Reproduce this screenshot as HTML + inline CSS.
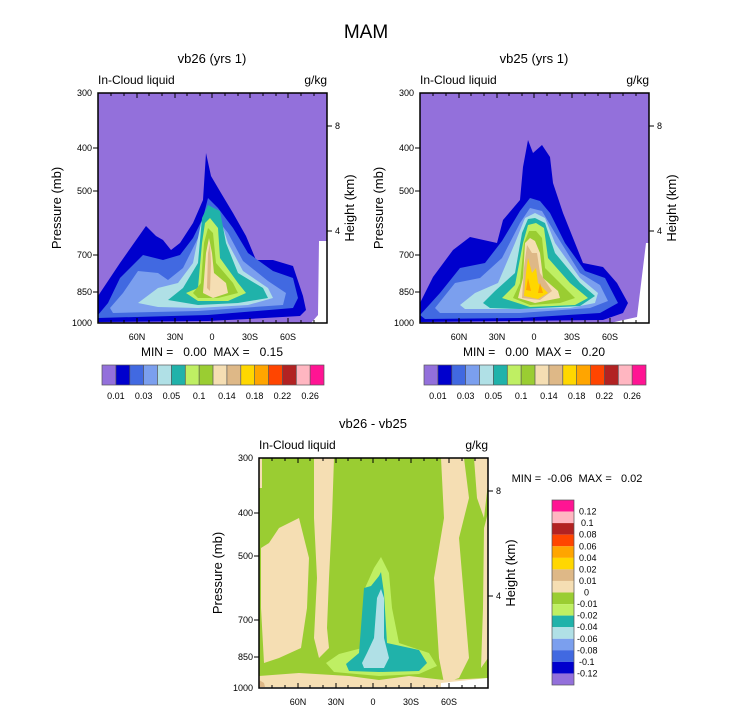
<!DOCTYPE html>
<html><head><meta charset="utf-8"><style>
body{margin:0;background:#fff;width:733px;height:712px;overflow:hidden}
svg text{font-family:"Liberation Sans",sans-serif;fill:#000;white-space:pre}
</style></head><body>
<svg width="733" height="712" viewBox="0 0 733 712" xmlns="http://www.w3.org/2000/svg" xml:space="preserve">
<defs>
<g id="ticksPanel">
  <rect x="0" y="0" width="229" height="230" fill="none" stroke="#000" stroke-width="1.5"/>
  <g stroke="#000" stroke-width="1">
    <path d="M39,230v-5M77,230v-5M114,230v-5M152,230v-5M190,230v-5M39,0v5M77,0v5M114,0v5M152,0v5M190,0v5"/>
    <path d="M13,230v-3M26,230v-3M51,230v-3M64,230v-3M89,230v-3M102,230v-3M127,230v-3M140,230v-3M165,230v-3M178,230v-3M203,230v-3M216,230v-3M13,0v3M26,0v3M51,0v3M64,0v3M89,0v3M102,0v3M127,0v3M140,0v3M165,0v3M178,0v3M203,0v3M216,0v3"/>
    <path d="M0,55h-5M0,98h-5M0,162h-5M0,199h-5M229,33h5M229,138h5"/>
  </g>
  <g font-size="9" text-anchor="end">
    <text x="-6" y="3">300</text><text x="-6" y="58">400</text><text x="-6" y="101">500</text>
    <text x="-6" y="165">700</text><text x="-6" y="202">850</text><text x="-6" y="233">1000</text>
  </g>
  <g font-size="9"><text x="237" y="36">8</text><text x="237" y="141">4</text></g>
  <g font-size="9" text-anchor="middle">
    <text x="39" y="247">60N</text><text x="77" y="247">30N</text><text x="114" y="247">0</text>
    <text x="152" y="247">30S</text><text x="190" y="247">60S</text>
  </g>
  <text x="-37" y="115" font-size="13" text-anchor="middle" transform="rotate(-90 -37 115)">Pressure (mb)</text>
  <text x="256" y="115" font-size="13" text-anchor="middle" transform="rotate(-90 256 115)">Height (km)</text>
  <text x="0" y="-9" font-size="12">In-Cloud liquid</text>
  <text x="229" y="-9" font-size="12" text-anchor="end">g/kg</text>
</g>
</defs>

<text x="366" y="38" font-size="19" text-anchor="middle">MAM</text>

<g transform="translate(98,93)">
  <text x="114" y="-30" font-size="13" text-anchor="middle">vb26 (yrs 1)</text>
  <rect x="0" y="0" width="229" height="230" fill="#9370DB"/>
  <polygon points="221,148 229,148 229,230 213,230 220,222" fill="#fff"/>
  <polygon points="0,203 22,170 48,133 58,143 65,147 73,157 82,150 95,130 105,107 108,60 113,83 123,100 135,120 148,143 158,167 175,167 195,173 205,203 208,217 202,223 150,226 110,228 0,229" fill="#0000CD"/>
  <polygon points="0,222 10,210 22,185 45,162 65,167 82,162 95,145 105,125 110,105 120,115 135,135 150,160 175,178 195,185 200,205 195,215 110,222 0,225" fill="#4169E1"/>
  <polygon points="12,215 25,200 40,178 60,180 70,187 85,175 100,145 108,120 118,125 130,140 145,168 170,188 188,200 185,212 100,218 15,220" fill="#7B9FEE"/>
  <polygon points="40,210 60,195 80,190 95,170 103,130 110,115 122,125 130,150 145,178 170,195 175,205 150,212 100,215 60,214" fill="#B0E0E6"/>
  <polygon points="70,207 85,195 100,170 104,125 110,112 122,118 128,150 140,180 165,195 170,205 140,210 100,212" fill="#20B2AA"/>
  <polygon points="88,200 100,195 104,150 107,130 112,125 120,135 122,165 140,190 148,200 130,208 100,208" fill="#BFEF63"/>
  <polygon points="95,200 103,190 106,150 110,135 115,140 118,170 135,190 140,200 120,205 100,205" fill="#9ACD32"/>
  <polygon points="105,200 108,160 111,145 114,160 116,180 128,190 130,200 115,205" fill="#F5DEB3"/>
  <polygon points="109,195 110,160 112,150 113,170 112,198" fill="#DEB887"/>
  <use href="#ticksPanel"/>
  <text x="114" y="263" font-size="12" text-anchor="middle">MIN =   0.00  MAX =   0.15</text>
</g>

<g transform="translate(420,93)">
  <text x="114" y="-30" font-size="13" text-anchor="middle">vb25 (yrs 1)</text>
  <rect x="0" y="0" width="229" height="230" fill="#9370DB"/>
  <polygon points="226,150 229,150 229,230 190,230 217,224" fill="#fff"/>
  <polygon points="0,210 13,184 33,157 50,144 77,150 83,127 100,107 103,74 108,47 113,60 122,52 130,64 133,90 143,120 163,170 183,174 197,190 208,210 203,220 183,227 0,229" fill="#0000CD"/>
  <polygon points="0,222 20,200 40,175 65,170 82,148 100,118 110,105 120,108 130,120 145,150 165,178 185,185 198,210 180,220 100,225 5,226" fill="#4169E1"/>
  <polygon points="15,215 35,190 60,185 82,165 100,130 110,115 122,118 135,140 160,180 180,192 188,208 170,215 100,220 20,220" fill="#7B9FEE"/>
  <polygon points="40,212 55,200 78,190 95,150 105,125 115,120 125,125 135,150 160,185 178,200 175,210 150,215 90,216 45,216" fill="#B0E0E6"/>
  <polygon points="63,210 75,198 95,180 102,140 108,126 115,125 125,130 135,160 160,190 175,203 160,213 100,216 70,215" fill="#20B2AA"/>
  <polygon points="82,205 95,192 103,150 108,132 116,130 124,135 128,165 150,190 168,205 155,212 110,214" fill="#BFEF63"/>
  <polygon points="93,205 100,190 104,150 109,138 116,138 122,145 125,175 145,195 155,205 140,210 110,212" fill="#9ACD32"/>
  <polygon points="98,205 103,185 105,150 110,145 115,148 120,160 123,185 138,198 140,205 115,210" fill="#F5DEB3"/>
  <polygon points="102,205 104,175 107,152 112,160 117,160 120,180 132,198 120,207" fill="#DEB887"/>
  <polygon points="104,203 106,180 108,165 112,180 116,175 118,190 128,200 118,206" fill="#FFD700"/>
  <polygon points="106,197 108,185 111,198" fill="#FFA500"/>
  <polygon points="118,200 120,190 123,200" fill="#FFA500"/>
  <use href="#ticksPanel"/>
  <text x="114" y="263" font-size="12" text-anchor="middle">MIN =   0.00  MAX =   0.20</text>
</g>

<g id="hbar" transform="translate(102,365)">
  <rect x="0" y="0" width="13.9" height="20" fill="#9370DB"/>
  <rect x="13.9" y="0" width="13.9" height="20" fill="#0000CD"/>
  <rect x="27.8" y="0" width="13.9" height="20" fill="#4169E1"/>
  <rect x="41.6" y="0" width="13.9" height="20" fill="#7B9FEE"/>
  <rect x="55.5" y="0" width="13.9" height="20" fill="#B0E0E6"/>
  <rect x="69.4" y="0" width="13.9" height="20" fill="#20B2AA"/>
  <rect x="83.3" y="0" width="13.9" height="20" fill="#BFEF63"/>
  <rect x="97.1" y="0" width="13.9" height="20" fill="#9ACD32"/>
  <rect x="111" y="0" width="13.9" height="20" fill="#F5DEB3"/>
  <rect x="124.9" y="0" width="13.9" height="20" fill="#DEB887"/>
  <rect x="138.8" y="0" width="13.9" height="20" fill="#FFD700"/>
  <rect x="152.6" y="0" width="13.9" height="20" fill="#FFA500"/>
  <rect x="166.5" y="0" width="13.9" height="20" fill="#FF4500"/>
  <rect x="180.4" y="0" width="13.9" height="20" fill="#B22222"/>
  <rect x="194.3" y="0" width="13.9" height="20" fill="#FFB6C1"/>
  <rect x="208.1" y="0" width="13.9" height="20" fill="#FF1493"/>
  <g stroke="#555" stroke-width="0.7" fill="none"><rect x="0" y="0" width="222" height="20"/>
  <path d="M13.9,0v20M27.8,0v20M41.6,0v20M55.5,0v20M69.4,0v20M83.3,0v20M97.1,0v20M111,0v20M124.9,0v20M138.8,0v20M152.6,0v20M166.5,0v20M180.4,0v20M194.3,0v20M208.1,0v20"/></g>
  <g font-size="9" text-anchor="middle">
    <text x="13.9" y="34">0.01</text><text x="41.6" y="34">0.03</text><text x="69.4" y="34">0.05</text>
    <text x="97.1" y="34">0.1</text><text x="124.9" y="34">0.14</text><text x="152.6" y="34">0.18</text>
    <text x="180.4" y="34">0.22</text><text x="208.1" y="34">0.26</text>
  </g>
</g>
<use href="#hbar" transform="translate(322,0)"/>

<g transform="translate(259,458)">
  <text x="114" y="-30" font-size="13" text-anchor="middle">vb26 - vb25</text>
  <rect x="0" y="0" width="229" height="229" fill="#9ACD32"/>
  <polygon points="0,0 3,0 3,30 0,30" fill="#F5DEB3"/>
  <polygon points="55,0 75,0 73,60 70,120 68,170 70,190 60,200 55,180 58,120 55,60" fill="#F5DEB3"/>
  <polygon points="2,90 10,85 20,70 40,60 50,100 48,150 42,190 20,200 5,205 2,150" fill="#F5DEB3"/>
  <polygon points="182,0 205,0 210,40 200,80 205,140 210,200 200,220 185,225 180,200 175,120 185,60" fill="#F5DEB3"/>
  <polygon points="215,0 229,0 229,25 225,60 218,40" fill="#F5DEB3"/>
  <polygon points="225,70 229,55 229,200 222,210 224,150" fill="#F5DEB3"/>
  <polygon points="0,218 40,215 90,218 120,222 150,218 185,222 229,220 229,229 0,229" fill="#F5DEB3"/>
  <polygon points="182,225 229,220 229,229 182,229" fill="#fff"/>
  <polygon points="0,222 5,225 6,229 0,229" fill="#DEB887"/>
  <polygon points="67,205 80,196 103,190 106,130 115,110 122,99 130,115 133,150 140,185 170,195 178,208 160,216 120,218 75,214" fill="#BFEF63"/>
  <polygon points="87,206 100,195 105,130 112,128 120,118 122,114 125,135 128,185 160,192 168,205 160,213 120,214 90,213" fill="#20B2AA"/>
  <polygon points="103,205 108,195 115,180 118,140 122,131 125,140 125,180 130,200 125,210 105,210" fill="#B0E0E6"/>
  <use href="#ticksPanel"/>
</g>
<text x="577" y="482" font-size="11" text-anchor="middle">MIN =  -0.06  MAX =   0.02</text>

<g transform="translate(552,500)">
  <rect x="0" y="0" width="22" height="11.6" fill="#FF1493"/>
  <rect x="0" y="11.6" width="22" height="11.6" fill="#FFB6C1"/>
  <rect x="0" y="23.1" width="22" height="11.6" fill="#B22222"/>
  <rect x="0" y="34.7" width="22" height="11.6" fill="#FF4500"/>
  <rect x="0" y="46.3" width="22" height="11.6" fill="#FFA500"/>
  <rect x="0" y="57.8" width="22" height="11.6" fill="#FFD700"/>
  <rect x="0" y="69.4" width="22" height="11.6" fill="#DEB887"/>
  <rect x="0" y="80.9" width="22" height="11.6" fill="#F5DEB3"/>
  <rect x="0" y="92.5" width="22" height="11.6" fill="#9ACD32"/>
  <rect x="0" y="104.1" width="22" height="11.6" fill="#BFEF63"/>
  <rect x="0" y="115.6" width="22" height="11.6" fill="#20B2AA"/>
  <rect x="0" y="127.2" width="22" height="11.6" fill="#B0E0E6"/>
  <rect x="0" y="138.8" width="22" height="11.6" fill="#7B9FEE"/>
  <rect x="0" y="150.3" width="22" height="11.6" fill="#4169E1"/>
  <rect x="0" y="161.9" width="22" height="11.6" fill="#0000CD"/>
  <rect x="0" y="173.4" width="22" height="11.6" fill="#9370DB"/>
  <rect x="0" y="0" width="22" height="185" fill="none" stroke="#555" stroke-width="0.7"/>
  <g font-size="9">
    <text x="27" y="14.6">0.12</text><text x="29" y="26.1">0.1</text><text x="27" y="37.7">0.08</text>
    <text x="27" y="49.3">0.06</text><text x="27" y="60.8">0.04</text><text x="27" y="72.4">0.02</text>
    <text x="27" y="84">0.01</text><text x="32" y="95.5">0</text><text x="25" y="107.1">-0.01</text>
    <text x="25" y="118.6">-0.02</text><text x="25" y="130.2">-0.04</text><text x="25" y="141.8">-0.06</text>
    <text x="25" y="153.3">-0.08</text><text x="27" y="164.9">-0.1</text><text x="25" y="176.4">-0.12</text>
  </g>
</g>
</svg>
</body></html>
